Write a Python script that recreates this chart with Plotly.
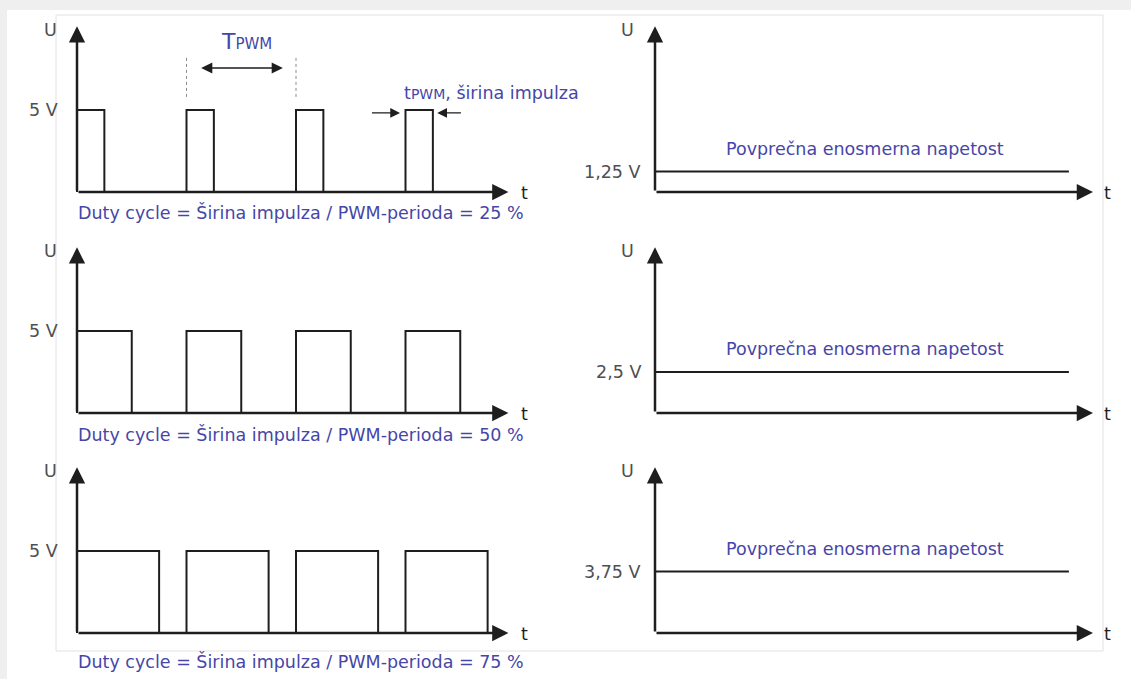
import plotly.graph_objects as go

# ---------------- data ----------------
duty_cycles = [25, 50, 75]                     # %
pulse_rise = [0, 1, 2, 3]                      # pulse start, in PWM periods
pulse_fall = [                                 # pulse end, in PWM periods
    [0.25, 1.25, 2.25, 3.25],
    [0.5, 1.5, 2.5, 3.5],
    [0.75, 1.75, 2.75, 3.75],
]
high_level = 5.0                               # V
avg_levels = [1.25, 2.5, 3.75]                 # V
avg_line_start = 0.0
avg_line_end = 3.78
left_tick_labels = ["5 V", "5 V", "5 V"]
right_tick_labels = ["1,25 V", "2,5 V", "3,75 V"]
tpwm_marks = [1, 2]                            # dotted period markers (periods)
tpwm_mark_span = [5.8, 8.2]                    # V
tpwm_arrow = [1.12, 1.88]                      # double arrow ends (periods)
tpwm_arrow_level = 7.56
pulse_width_arrows = [[2.68, 2.95], [3.52, 3.29]]  # [tail, head]
pulse_width_level = 4.82
axis_tip_left = 3.94
axis_tip_right = 4.0
axis_tip_u = 10.1
avg_label = "Povprečna enosmerna napetost"
duty_label = "Duty cycle = Širina impulza / PWM-perioda = {} %"

# ---------------- geometry ----------------
W, H = 1131, 679
T0_LEFT, T0_RIGHT = 77, 655
PX_PER_T = 109.5
PX_PER_V = 16.4
BASELINES = [192, 413, 633]
T_RANGE = [-0.3, 4.3]
U_RANGE = [-2.0, 11]

BLUE = "#4646a8"
INK = "#1e1e1e"
GRAY_TXT = "#4f4f4f"
FONT = "DejaVu Sans"


def fx(p):
    return p / W


def fy(p):
    return 1 - p / H


fig = go.Figure()
layout = dict(
    width=W, height=H, autosize=False,
    margin=dict(l=0, r=0, t=0, b=0),
    paper_bgcolor="white", plot_bgcolor="rgba(0,0,0,0)",
    showlegend=False, hovermode=False,
    font=dict(family=FONT, size=17.5, color=GRAY_TXT),
)

annotations = []
shapes = []

# background frame
shapes.append(dict(type="rect", xref="paper", yref="paper", x0=0, x1=1,
                   y0=fy(10), y1=1, fillcolor="#efefef", line=dict(width=0), layer="below"))
shapes.append(dict(type="rect", xref="paper", yref="paper", x0=0, x1=fx(7),
                   y0=0, y1=1, fillcolor="#efefef", line=dict(width=0), layer="below"))
shapes.append(dict(type="rect", xref="paper", yref="paper", x0=fx(56), x1=fx(1103),
                   y0=fy(651), y1=fy(15), fillcolor="rgba(0,0,0,0)",
                   line=dict(width=1, color="#e2e2e2"), layer="below"))


def add_axes(n, t0, row):
    b = BASELINES[row]
    layout[f"xaxis{n}"] = dict(
        domain=[fx(t0 + PX_PER_T * T_RANGE[0]), fx(t0 + PX_PER_T * T_RANGE[1])],
        range=T_RANGE, visible=False, anchor=f"y{n}", fixedrange=True)
    layout[f"yaxis{n}"] = dict(
        domain=[fy(b - PX_PER_V * U_RANGE[0]), fy(b - PX_PER_V * U_RANGE[1])],
        range=U_RANGE, visible=False, anchor=f"x{n}", fixedrange=True)


def ref(n):
    return ("x" if n == 1 else f"x{n}"), ("y" if n == 1 else f"y{n}")


def axis_arrows(n, tip_t):
    xr, yr = ref(n)
    for (x, y) in [(tip_t, 0), (0, axis_tip_u)]:
        annotations.append(dict(
            x=x, y=y, ax=0, ay=0, xref=xr, yref=yr, axref=xr, ayref=yr,
            text="", showarrow=True, arrowhead=2, arrowsize=1.3,
            arrowwidth=2.5, arrowcolor=INK, standoff=0))


# ---------------- left column: PWM signals ----------------
for row in range(3):
    n = row + 1
    add_axes(n, T0_LEFT, row)
    xr, yr = ref(n)
    xs, ys = [], []
    for r, f in zip(pulse_rise, pulse_fall[row]):
        xs += [r, r, f, f]
        ys += [0, high_level, high_level, 0]
    fig.add_trace(go.Scatter(x=xs, y=ys, mode="lines", xaxis=xr, yaxis=yr,
                             line=dict(color=INK, width=2), hoverinfo="skip"))
    axis_arrows(n, axis_tip_left)
    annotations.append(dict(x=-0.24, y=9.9, xref=xr, yref=yr, text="U",
                            showarrow=False, font=dict(color=GRAY_TXT, size=17.5)))
    annotations.append(dict(x=0, y=high_level, xref=xr, yref=yr, text=left_tick_labels[row],
                            showarrow=False, xanchor="right", xshift=-17,
                            font=dict(color=GRAY_TXT, size=17.5)))
    annotations.append(dict(x=4.09, y=0, xref=xr, yref=yr, text="t", yshift=-1,
                            showarrow=False, font=dict(color=INK, size=17.5)))
    duty_y = [-1.22, -1.34, -1.71][row]
    annotations.append(dict(x=-0.01, y=duty_y, xref=xr, yref=yr,
                            text=duty_label.format(duty_cycles[row]),
                            showarrow=False, xanchor="left",
                            font=dict(color=BLUE, size=17.5)))

# period markers and labels in first panel
for m in tpwm_marks:
    fig.add_trace(go.Scatter(x=[m, m], y=tpwm_mark_span, mode="lines", xaxis="x", yaxis="y",
                             line=dict(color="#8a8a8a", width=1, dash="dot"), hoverinfo="skip"))
annotations.append(dict(x=tpwm_arrow[1], y=tpwm_arrow_level, ax=tpwm_arrow[0], ay=tpwm_arrow_level,
                        xref="x", yref="y", axref="x", ayref="y", text="", showarrow=True,
                        arrowside="end+start", arrowhead=2, startarrowhead=2,
                        arrowsize=1.4, startarrowsize=1.4, arrowwidth=1.6,
                        arrowcolor=INK, standoff=0, startstandoff=0))
annotations.append(dict(x=1.55, y=9.15, xref="x", yref="y",
                        text="T<span style='font-size:15px'>PWM</span>",
                        showarrow=False, font=dict(color=BLUE, size=22)))
for tail, head in pulse_width_arrows:
    annotations.append(dict(x=head, y=pulse_width_level, ax=tail, ay=pulse_width_level,
                            xref="x", yref="y", axref="x", ayref="y", text="", showarrow=True,
                            arrowhead=2, arrowsize=1.5, arrowwidth=1.3,
                            arrowcolor=INK, standoff=0))
annotations.append(dict(x=2.97, y=6.04, xref="x", yref="y",
                        text="t<span style='font-size:14px'>PWM</span>, širina impulza",
                        showarrow=False, xanchor="left", font=dict(color=BLUE, size=17.5)))

# ---------------- right column: average voltage ----------------
for row in range(3):
    n = row + 4
    add_axes(n, T0_RIGHT, row)
    xr, yr = ref(n)
    lvl = avg_levels[row]
    fig.add_trace(go.Scatter(x=[avg_line_start, avg_line_end], y=[lvl, lvl], mode="lines",
                             xaxis=xr, yaxis=yr, line=dict(color=INK, width=2),
                             hoverinfo="skip"))
    axis_arrows(n, axis_tip_right)
    annotations.append(dict(x=-0.25, y=9.9, xref=xr, yref=yr, text="U",
                            showarrow=False, font=dict(color=GRAY_TXT, size=17.5)))
    annotations.append(dict(x=0, y=lvl, xref=xr, yref=yr, text=right_tick_labels[row],
                            showarrow=False, xanchor="right", xshift=-12,
                            font=dict(color=GRAY_TXT, size=17.5)))
    annotations.append(dict(x=4.13, y=0, xref=xr, yref=yr, text="t", yshift=-1,
                            showarrow=False, font=dict(color=INK, size=17.5)))
    annotations.append(dict(x=1.92, y=lvl + 1.4, xref=xr, yref=yr, text=avg_label,
                            showarrow=False, font=dict(color=BLUE, size=17.5)))

layout["annotations"] = annotations
layout["shapes"] = shapes
fig.update_layout(**layout)
fig.write_html(
    "out.html",
    config={"displayModeBar": False},
    post_script="document.body.style.margin='0';document.body.style.overflow='hidden';",
)
